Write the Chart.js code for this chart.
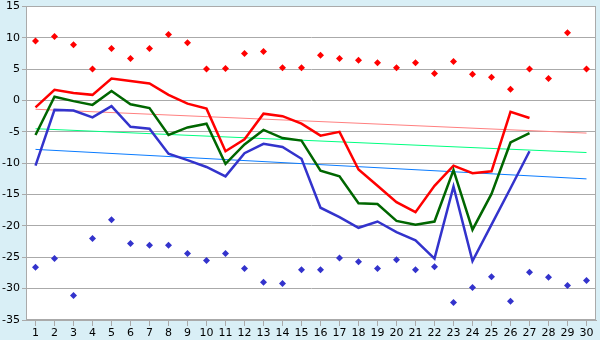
<!DOCTYPE html>
<html>
<head>
<meta charset="utf-8">
<title>Daily temperatures</title>
<script src="https://cdn.jsdelivr.net/npm/chart.js@4/dist/chart.umd.min.js"></script>
<style>
  html, body { margin: 0; padding: 0; background: #d9eff6; }
  #wrap { width: 600px; height: 340px; }
</style>
</head>
<body>
<div id="wrap"><canvas id="c" width="600" height="340"></canvas></div>
<script>
// Day of month
const days = ['1','2','3','4','5','6','7','8','9','10','11','12','13','14','15',
              '16','17','18','19','20','21','22','23','24','25','26','27','28','29','30'];

// Daily maximum, mean and minimum temperature (°C)
const tMax  = [-1.1, 1.7, 1.2, 0.9, 3.5, 3.1, 2.7, 0.9, -0.5, -1.3,
               -8.1, -6.2, -2.1, -2.5, -3.7, -5.6, -5.0, -11.0, -13.6, -16.2,
               -17.8, -13.6, -10.4, -11.6, -11.3, -1.8, -2.8, null, null, null];
const tMean = [-5.5, 0.6, -0.1, -0.7, 1.5, -0.6, -1.2, -5.5, -4.3, -3.7,
               -10.1, -7.0, -4.7, -6.0, -6.4, -11.2, -12.1, -16.4, -16.5, -19.2,
               -19.8, -19.3, -11.1, -20.6, -14.9, -6.7, -5.2, null, null, null];
const tMin  = [-10.4, -1.5, -1.6, -2.7, -0.9, -4.2, -4.5, -8.5, -9.5, -10.6,
               -12.1, -8.4, -6.9, -7.4, -9.3, -17.1, -18.6, -20.3, -19.3, -21.0,
               -22.3, -25.2, -13.7, -25.6, -19.8, -14.0, -8.1, null, null, null];

// Record high and record low for each day
const recHigh = [9.5, 10.2, 8.9, 5.0, 8.3, 6.7, 8.3, 10.5, 9.2, 5.0,
                 5.1, 7.5, 7.8, 5.2, 5.2, 7.2, 6.7, 6.4, 6.0, 5.2,
                 6.0, 4.3, 6.2, 4.2, 3.7, 1.8, 5.0, 3.5, 10.8, 5.0];
const recLow  = [-26.6, -25.2, -31.1, -22.0, -19.0, -22.8, -23.1, -23.1, -24.4, -25.5,
                 -24.4, -26.8, -29.0, -29.2, -27.0, -27.0, -25.1, -25.7, -26.8, -25.4,
                 -27.0, -26.5, -32.2, -29.8, -28.1, -32.0, -27.4, -28.2, -29.5, -28.7];

// Trend line end values (first day, last day)
const trendEnds = ['1', '30'];
const trendMax  = [-1.4, -5.2];
const trendMean = [-4.5, -8.3];
const trendMin  = [-7.8, -12.5];

// Y axis range
const yMin = -35, yMax = 15, yStep = 5;

const FONT = 'DejaVu Sans';
const GRID = '#aaaaaa';

const trend = (ends, vals) => ends.map((d, i) => ({ x: d, y: vals[i] }));

// White plot area with a grey frame on a light blue page
const plotFrame = {
  id: 'plotFrame',
  beforeDraw(chart) {
    const { ctx, chartArea: a } = chart;
    ctx.save();
    ctx.fillStyle = '#d9eff6';
    ctx.fillRect(0, 0, chart.width, chart.height);
    ctx.fillStyle = '#ffffff';
    ctx.fillRect(a.left, a.top, a.right - a.left, a.bottom - a.top);
    ctx.restore();
  },
  afterDatasetsDraw(chart) {
    const { ctx, chartArea: a } = chart;
    ctx.save();
    ctx.strokeStyle = GRID;
    ctx.lineWidth = 1;
    ctx.strokeRect(Math.round(a.left) + 0.5, Math.round(a.top) + 0.5,
                   Math.round(a.right - a.left) - 1, Math.round(a.bottom - a.top) - 1);
    ctx.restore();
  }
};

const lineDs = (data, color, order) => ({
  type: 'line', data, borderColor: color, backgroundColor: color,
  borderWidth: 2.5, pointRadius: 0, tension: 0, spanGaps: false, order
});
const trendDs = (data, color, order) => ({
  type: 'line', data, borderColor: color, backgroundColor: color,
  borderWidth: 1, pointRadius: 0, tension: 0, order
});
const markDs = (data, color, order) => ({
  type: 'line', data, showLine: false, borderColor: color, backgroundColor: color,
  pointStyle: 'rectRot', pointRadius: 3.5, pointBorderWidth: 0, order
});

new Chart(document.getElementById('c'), {
  data: {
    labels: days,
    datasets: [
      trendDs(trend(trendEnds, trendMax), '#ff8080', 9),
      trendDs(trend(trendEnds, trendMean), '#00ff80', 8),
      trendDs(trend(trendEnds, trendMin), '#0a7cff', 7),
      lineDs(tMax, '#ff0000', 6),
      lineDs(tMean, '#006600', 5),
      lineDs(tMin, '#3333cc', 4),
      markDs(recHigh, '#ff0000', 2),
      markDs(recLow, '#3333cc', 1)
    ]
  },
  options: {
    responsive: false,
    devicePixelRatio: 1,
    animation: false,
    layout: { padding: { top: 5, right: 4, left: 0, bottom: 0 } },
    plugins: { legend: { display: false }, tooltip: { enabled: false } },
    scales: {
      x: {
        type: 'category',
        offset: true,
        grid: { drawOnChartArea: false, drawTicks: true, tickLength: 6, color: GRID },
        border: { color: GRID },
        ticks: { color: '#000', font: { family: FONT, size: 11 }, padding: 1,
                 maxRotation: 0, autoSkip: false },
        afterFit(s) { s.height = 20; }
      },
      y: {
        min: yMin, max: yMax,
        grid: { color: GRID, tickLength: 4 },
        border: { color: GRID },
        ticks: { stepSize: yStep, color: '#000', font: { family: FONT, size: 11, lineHeight: 0.8 },
                 padding: 2 },
        afterFit(s) { s.width = 26; }
      }
    }
  },
  plugins: [plotFrame]
});
</script>
</body>
</html>
